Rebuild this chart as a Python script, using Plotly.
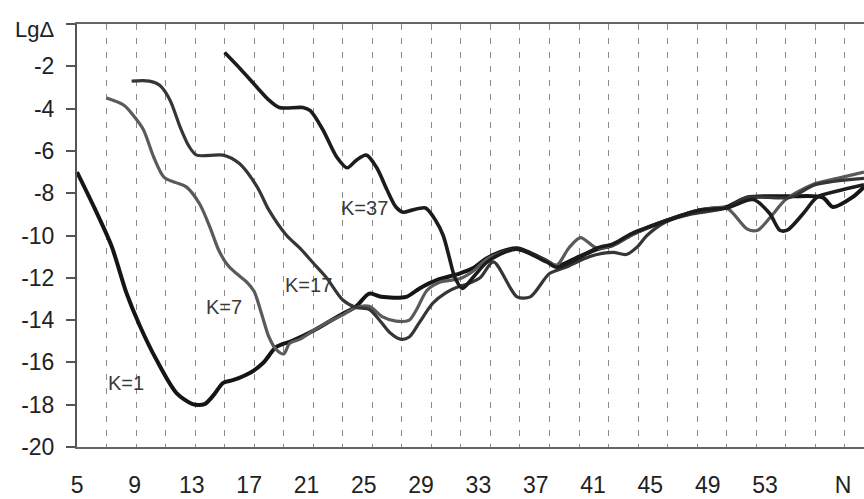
import plotly.graph_objects as go

# Error curves lg(delta) versus N for several K
k1_x = [5, 6.19, 7.34, 8.35, 9.23, 10.39, 11.74, 12.83, 13.64, 14.25, 14.9, 15.6, 16.7, 17.6, 18.5, 19.5, 21,
        22, 23, 23.9, 24.8, 25.6, 27.3, 28.2, 29.4, 30.9, 31.8, 32.7, 33.6, 34.8, 36.8, 37.5, 39, 40.2, 41.3,
        42.6, 44.9, 47.2, 49, 50.4, 53.3, 55.5, 56.2, 57.5, 58.3]
k1_y = [-7.0, -8.71, -10.5, -12.72, -14.23, -15.89, -17.45, -17.97, -17.97, -17.55, -16.97, -16.83, -16.5,
        -16.03, -15.27, -15.0, -14.5, -14.1, -13.7, -13.35, -12.75, -12.9, -12.9, -12.5, -12.1, -11.8, -11.55,
        -11.1, -10.8, -10.6, -11.2, -11.45, -11.0, -10.65, -10.45, -9.95, -9.3, -8.8, -8.65, -8.2, -8.15,
        -8.2, -8.65, -8.2, -7.7]

k7_x = [7, 8.2, 8.9, 9.5, 10.2, 10.9, 11.7, 12.4, 13.3, 14.0, 14.6, 15.2, 15.8, 16.5, 17.0, 17.5, 18.0, 18.5,
        19.0, 19.4, 20.1, 21, 22, 23, 23.9, 24.8, 25.7, 26.6, 27.5, 28.0, 28.7, 29.6, 30.9, 31.8, 32.7, 33.6,
        34.8, 36.8, 37.5, 38.3, 39.1, 40.2, 41.3, 42.6, 44.9, 47.2, 49.0, 50.4, 51.1, 52.0, 53.0, 54.8, 56.5,
        58.3]
k7_y = [-3.5, -3.85, -4.4, -5.0, -6.3, -7.25, -7.5, -7.7, -8.5, -9.6, -10.7, -11.4, -11.8, -12.2, -12.65,
        -13.7, -14.8, -15.4, -15.6, -15.1, -14.9, -14.5, -14.1, -13.75, -13.4, -13.35, -13.85, -14.05, -14.0,
        -13.5, -12.6, -12.2, -12.05, -11.7, -11.15, -10.85, -10.65, -11.2, -11.4, -10.6, -10.1, -10.6,
        -10.45, -9.95, -9.3, -8.8, -8.7, -9.7, -9.75, -9.1, -8.3, -7.6, -7.3, -7.0]

k17_x = [8.7, 9.9, 10.6, 11.3, 12.0, 12.6, 13.1, 14.9, 16.0, 17.2, 18.0, 19.2, 20.1, 21.0, 21.9, 23.0, 23.9,
         24.8, 25.6, 26.2, 26.9, 27.5, 28.2, 29.1, 30.0, 30.9, 31.4, 32.3, 33.2, 34.8, 35.7, 37.0, 38.1, 39.7,
         41.3, 42.2, 43.0, 43.6, 44.9, 46.5, 49.0, 50.4, 53.3, 55.0, 58.3]
k17_y = [-2.7, -2.7, -2.9, -3.6, -4.9, -5.8, -6.2, -6.2, -6.6, -7.7, -8.8, -10.0, -10.6, -11.3, -12.0, -13.05,
         -13.4, -13.5, -14.1, -14.6, -14.9, -14.8, -14.1, -13.2, -12.7, -12.4, -12.3, -12.0, -11.25, -12.9,
         -12.9, -11.8, -11.5, -11.0, -10.8, -10.9, -10.5, -10.0, -9.35, -9.0, -8.7, -8.2, -8.2, -7.6, -7.3]

k37_x = [15.0, 16.1, 17.2, 18.0, 18.7, 20.3, 20.8, 21.65, 22.6, 23.3, 23.9, 24.6, 25.3, 26.0, 26.6, 27.1, 27.7,
         28.6, 29.3, 29.8, 30.2, 30.6, 31.1, 31.8, 32.7, 33.6, 34.8, 36.8, 37.5, 39.0, 40.2, 41.3, 42.6, 44.9,
         47.2, 49.0, 50.8, 51.9, 52.6, 53.1, 54.2, 55.1, 56.5, 58.3]
k37_y = [-1.35, -2.15, -3.0, -3.6, -3.95, -3.95, -4.1, -5.0, -6.3, -6.8, -6.45, -6.2, -6.8, -7.85, -8.65, -8.9,
         -8.8, -8.7, -9.3, -10.0, -11.0, -12.0, -12.5, -12.0, -11.3, -10.9, -10.65, -11.25, -11.5, -11.05, -10.6,
         -10.4, -9.9, -9.3, -8.8, -8.7, -8.3, -8.95, -9.75, -9.75, -8.95, -8.2, -7.9, -7.6]

series = [
    ("K=1", k1_x, k1_y, "#151515", 4.0, 8.35, -16.97),
    ("K=7", k7_x, k7_y, "#5a5a5a", 3.2, 14.93, -13.38),
    ("K=17", k17_x, k17_y, "#363636", 3.2, 20.68, -12.34),
    ("K=37", k37_x, k37_y, "#1c1c1c", 3.6, 24.45, -8.71),
]

y_ticks = list(range(0, -21, -2))
y_text = [""] + [str(v) for v in y_ticks[1:]]
x_ticks = list(range(5, 54, 4)) + [58.45]
x_text = [str(v) for v in range(5, 54, 4)] + ["N"]

FONT = "Liberation Sans, Arial, sans-serif"

fig = go.Figure()
for name, xs, ys, color, width, lx, ly in series:
    fig.add_trace(go.Scatter(x=xs, y=ys, mode="lines", name=name,
                             line=dict(color=color, width=width, shape="spline", smoothing=0.8),
                             showlegend=False, hoverinfo="skip"))
    fig.add_annotation(x=lx, y=ly, text=name, showarrow=False,
                       font=dict(family=FONT, size=20, color="#3a3a3a"),
                       xanchor="center", yanchor="middle")

# carrier for the labelled N axis
fig.add_trace(go.Scatter(x=[], y=[], xaxis="x2", showlegend=False, hoverinfo="skip"))

fig.add_annotation(xref="paper", yref="paper", x=-0.054, y=0.986, text="LgΔ", showarrow=False,
                   font=dict(family=FONT, size=22, color="#222"), xanchor="center", yanchor="middle")

fig.update_layout(
    width=864, height=499,
    margin=dict(l=77, r=0, t=24, b=52, autoexpand=False),
    paper_bgcolor="white", plot_bgcolor="white",
    xaxis=dict(range=[5, 58.3], tick0=5, dtick=2, showgrid=True, gridcolor="#8a8a8a", gridwidth=1.2,
               griddash="6px,8px", showticklabels=False, ticks="", zeroline=False,
               showline=True, linecolor="#666", linewidth=2, mirror=True),
    xaxis2=dict(overlaying="x", anchor="y", side="bottom", range=[4.984, 59.91],
                tickmode="array", tickvals=x_ticks, ticktext=x_text, showgrid=False, zeroline=False,
                showline=False, ticks="", ticklabelstandoff=22,
                tickfont=dict(family=FONT, size=23, color="#222")),
    yaxis=dict(range=[-20, 0], tickmode="array", tickvals=y_ticks, ticktext=y_text, showgrid=False,
               zeroline=False, showline=True, linecolor="#555", linewidth=2, ticks="outside",
               ticklen=9, tickwidth=2, tickcolor="#555", ticklabelstandoff=7,
               tickfont=dict(family=FONT, size=23, color="#222")),
)

fig.write_html("out.html")
